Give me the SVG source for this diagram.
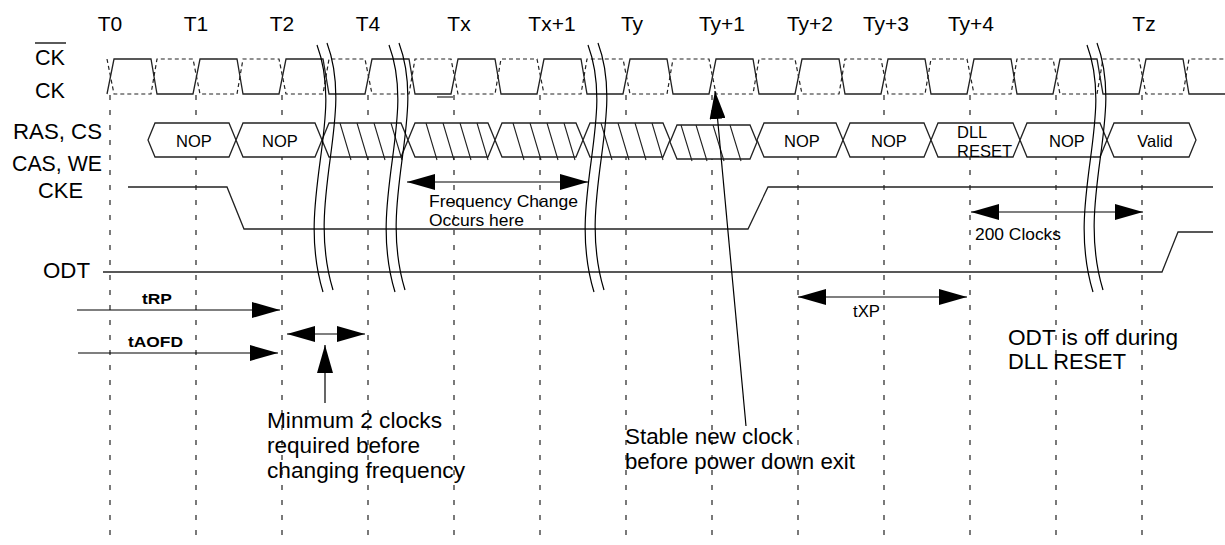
<svg xmlns="http://www.w3.org/2000/svg" width="1225" height="545" viewBox="0 0 1225 545">
<style>
text{font-family:"Liberation Sans",Arial,sans-serif;fill:#000}
.big{font-size:22px}
.tl{font-size:21px;text-anchor:middle}
.cell{font-size:16.5px}
.mid{text-anchor:middle}
.sm{font-size:17px}
.bold{font-size:15px;font-weight:bold}
.grid{stroke:#222;stroke-width:1.2;stroke-dasharray:5,10;fill:none}
.wave{stroke:#222;stroke-width:1.3;fill:none}
.wdash{stroke:#222;stroke-width:1.2;fill:none;stroke-dasharray:4,3}
.hex{stroke:#222;stroke-width:1.3;fill:#fff}
.hatch{stroke:#222;stroke-width:1.1}
.brk{stroke:#000;stroke-width:1.2;fill:none}
.arr{stroke:#000;stroke-width:1.2;fill:none;marker-end:url(#ah)}
.darr{stroke:#000;stroke-width:1.2;fill:none;marker-start:url(#ah);marker-end:url(#ah)}
</style>
<defs>
<marker id="ah" markerWidth="28" markerHeight="16" refX="28" refY="8" orient="auto-start-reverse" markerUnits="userSpaceOnUse"><path d="M0,0 L28,8 L0,16 z" fill="#000"/></marker>
<path id="bk" d="M0,45 C28,120 -22,200 6,292"/>
</defs>
<rect width="1225" height="545" fill="#fff"/>

<g id="grid">
<path class="grid" d="M110,95V545M196,95V545M282,95V545M368,95V545M454,95V545M540,95V545M626,95V545M712,95V545M798,95V545M884,95V545M970,95V545M1056,95V545M1142,95V545"/>
</g>

<g id="time-labels">
<text class="tl" x="110" y="31">T0</text>
<text class="tl" x="196" y="31">T1</text>
<text class="tl" x="282" y="31">T2</text>
<text class="tl" x="368" y="31">T4</text>
<text class="tl" x="459" y="31">Tx</text>
<text class="tl" x="552" y="31">Tx+1</text>
<text class="tl" x="632" y="31">Ty</text>
<text class="tl" x="722" y="31">Ty+1</text>
<text class="tl" x="810" y="31">Ty+2</text>
<text class="tl" x="886" y="31">Ty+3</text>
<text class="tl" x="971" y="31">Ty+4</text>
<text class="tl" x="1144" y="31">Tz</text>
</g>

<g id="signal-labels">
<text class="big" x="35" y="65" textLength="30" lengthAdjust="spacingAndGlyphs">CK</text>
<line x1="35" y1="43" x2="66" y2="43" stroke="#000" stroke-width="1.3"/>
<text class="big" x="35" y="98" textLength="30" lengthAdjust="spacingAndGlyphs">CK</text>
<text class="big" x="13" y="139" textLength="89" lengthAdjust="spacingAndGlyphs">RAS, CS</text>
<text class="big" x="12" y="171" textLength="90" lengthAdjust="spacingAndGlyphs">CAS, WE</text>
<text class="big" x="38" y="198" textLength="45" lengthAdjust="spacingAndGlyphs">CKE</text>
<text class="big" x="43" y="278" textLength="47" lengthAdjust="spacingAndGlyphs">ODT</text>
</g>

<g id="clock">
<path class="wdash" d="M107,59 L114,94 H151 L157,59 H193 L200,94 H237 L243,59 H279 L286,94 H323 L329,59 H365 L372,94 H409 L415,59 H451 L458,94 H495 L501,59 H537 L544,94 H581 L587,59 H623 L630,94 H667 L673,59 H709 L716,94 H753 L759,59 H795 L802,94 H839 L845,59 H881 L888,94 H925 L931,59 H967 L974,94 H1011 L1017,59 H1053 L1060,94 H1097 L1103,59 H1139 L1146,94 H1183 L1189,59 H1225"/>
<path class="wave" d="M107,94 L114,59 H151 L157,94 H193 L200,59 H237 L243,94 H279 L286,59 H323 L329,94 H365 L372,59 H409 L415,94 H451 L458,59 H495 L501,94 H537 L544,59 H581 L587,94 H623 L630,59 H667 L673,94 H709 L716,59 H753 L759,94 H795 L802,59 H839 L845,94 H881 L888,59 H925 L931,94 H967 L974,59 H1011 L1017,94 H1053 L1060,59 H1097 L1103,94 H1139 L1146,59 H1183 L1189,94 H1225"/>
<line x1="437" y1="97" x2="453" y2="97" stroke="#222" stroke-width="1.2"/>
</g>

<g id="bus">
<g id="cell-nop-1"><path class="hex" d="M148,140 L155,123 H229 L236,140 L229,157 H155 Z"/><text class="cell mid" x="194" y="146.5">NOP</text></g>
<g id="cell-nop-2"><path class="hex" d="M236,140 L243,123 H315 L322,140 L315,157 H243 Z"/><text class="cell mid" x="280" y="146.5">NOP</text></g>
<g id="cell-x-1"><path class="hex" d="M322,140 L329,123 H401 L408,140 L401,157 H329 Z"/><path class="hatch" d="M340,123 L351,160 M357,123 L368,160 M374,123 L385,160 M391,123 L402,160"/></g>
<g id="cell-x-2"><path class="hex" d="M408,140 L415,123 H488 L495,140 L488,157 H415 Z"/><path class="hatch" d="M426,123 L437,160 M443,123 L454,160 M460,123 L471,160 M477,123 L488,160"/></g>
<g id="cell-x-3"><path class="hex" d="M495,140 L502,123 H576 L583,140 L576,157 H502 Z"/><path class="hatch" d="M513,123 L524,160 M530,123 L541,160 M547,123 L558,160 M564,123 L575,160"/></g>
<g id="cell-x-4"><path class="hex" d="M583,140 L590,123 H663 L670,140 L663,157 H590 Z"/><path class="hatch" d="M601,123 L612,160 M618,123 L629,160 M635,123 L646,160 M652,123 L663,160"/></g>
<g id="cell-x-5"><path class="hex" d="M670,142 L677,125 H750 L757,142 L750,159 H677 Z"/><path class="hatch" d="M681,125 L692,161 M696,125 L707,161 M713,125 L724,161 M730,125 L741,161"/></g>
<g id="cell-nop-3"><path class="hex" d="M757,140 L764,123 H836 L843,140 L836,157 H764 Z"/><text class="cell mid" x="802" y="146.5">NOP</text></g>
<g id="cell-nop-4"><path class="hex" d="M843,140 L850,123 H924 L931,140 L924,157 H850 Z"/><text class="cell mid" x="889" y="146.5">NOP</text></g>
<g id="cell-dll"><path class="hex" d="M931,140 L938,123 H1013 L1020,140 L1013,157 H938 Z"/><text class="cell" x="957" y="138">DLL</text><text class="cell" x="957" y="157">RESET</text></g>
<g id="cell-nop-5"><path class="hex" d="M1020,140 L1027,123 H1100 L1107,140 L1100,157 H1027 Z"/><text class="cell mid" x="1067" y="146.5">NOP</text></g>
<g id="cell-valid"><path class="hex" d="M1107,140 L1114,123 H1189 L1196,140 L1189,157 H1114 Z"/><text class="cell mid" x="1155" y="146.5">Valid</text></g>
</g>

<g id="cke"><path class="wave" d="M128,187 H227 L244,229 H748 L768,187 H1213"/></g>
<g id="odt"><path class="wave" d="M103,272 H1162 L1178,232 H1213"/></g>

<g id="breaks">
<use href="#bk" class="brk" x="317" y="0"/><use href="#bk" class="brk" x="327" y="-2"/>
<use href="#bk" class="brk" x="389" y="0"/><use href="#bk" class="brk" x="399" y="-2"/>
<use href="#bk" class="brk" x="588" y="0"/><use href="#bk" class="brk" x="598" y="-2"/>
<use href="#bk" class="brk" x="1087" y="0"/><use href="#bk" class="brk" x="1097" y="-2"/>
</g>

<g id="connectors">
<line class="arr" x1="77" y1="310" x2="280" y2="310"/>
<line class="arr" x1="78" y1="353" x2="278" y2="353"/>
<line class="darr" x1="287" y1="334" x2="365" y2="334"/>
<line class="arr" x1="325" y1="403" x2="325" y2="345"/>
<line class="darr" x1="407" y1="182" x2="588" y2="182"/>
<line class="arr" x1="746" y1="426" x2="715" y2="91"/>
<line class="darr" x1="971" y1="212" x2="1143" y2="212"/>
<line class="darr" x1="798" y1="297" x2="967" y2="297"/>
</g>

<g id="annotations">
<text class="bold" x="142" y="304" textLength="30" lengthAdjust="spacingAndGlyphs">tRP</text>
<text class="bold" x="128" y="347" textLength="55" lengthAdjust="spacingAndGlyphs">tAOFD</text>
<text class="sm" x="429" y="207" textLength="149" lengthAdjust="spacingAndGlyphs">Frequency Change</text>
<text class="sm" x="429" y="226" textLength="95" lengthAdjust="spacingAndGlyphs">Occurs here</text>
<text class="sm" x="975" y="240" textLength="86" lengthAdjust="spacingAndGlyphs">200 Clocks</text>
<text class="sm" x="853" y="317" textLength="27" lengthAdjust="spacingAndGlyphs">tXP</text>
<text class="big" x="1008" y="345" textLength="170" lengthAdjust="spacingAndGlyphs">ODT is off during</text>
<text class="big" x="1008" y="369" textLength="118" lengthAdjust="spacingAndGlyphs">DLL RESET</text>
<text class="big" x="267" y="428" textLength="175" lengthAdjust="spacingAndGlyphs">Minmum 2 clocks</text>
<text class="big" x="267" y="453" textLength="153" lengthAdjust="spacingAndGlyphs">required before</text>
<text class="big" x="267" y="478" textLength="198" lengthAdjust="spacingAndGlyphs">changing frequency</text>
<text class="big" x="625" y="444" textLength="168" lengthAdjust="spacingAndGlyphs">Stable new clock</text>
<text class="big" x="625" y="469" textLength="230" lengthAdjust="spacingAndGlyphs">before power down exit</text>
</g>
</svg>
